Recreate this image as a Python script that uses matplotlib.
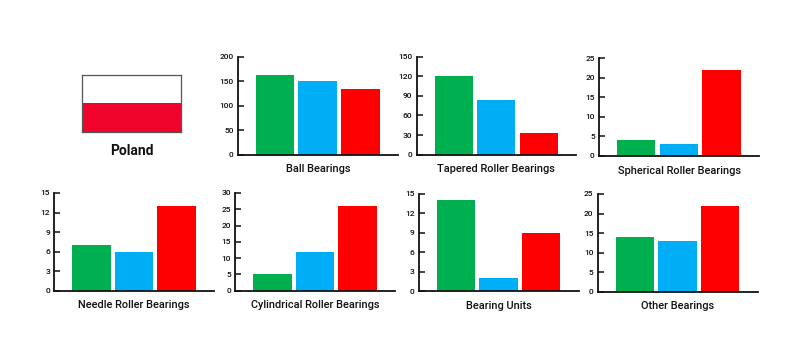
import matplotlib
matplotlib.use("Agg")
import matplotlib.pyplot as plt
from matplotlib.patches import Rectangle

W, H = 809, 351
plt.rcParams['font.family'] = ['Roboto', 'DejaVu Sans']

country = "Poland"
colors = ["#00B050", "#00AEF5", "#FF0000"]
flag_colors = ["#FFFFFF", "#F0042C"]

titles = ["Ball Bearings", "Tapered Roller Bearings", "Spherical Roller Bearings",
          "Needle Roller Bearings", "Cylindrical Roller Bearings", "Bearing Units", "Other Bearings"]
ball = [162, 150, 135]
tapered = [121, 84, 33]
spherical = [4, 3, 22]
needle = [7, 6, 13]
cylindrical = [5, 12, 26]
units = [14, 2, 9]
other = [14, 13, 22]
series = [ball, tapered, spherical, needle, cylindrical, units, other]
y_ticks = [[0, 50, 100, 150, 200], [0, 30, 60, 90, 120, 150], [0, 5, 10, 15, 20, 25],
           [0, 3, 6, 9, 12, 15], [0, 5, 10, 15, 20, 25, 30], [0, 3, 6, 9, 12, 15], [0, 5, 10, 15, 20, 25]]
# pixel boxes: left, top, right, bottom
boxes = [(237.7, 56.7, 398, 154.7), (416.7, 56.7, 576, 154.7), (599, 58.3, 759.3, 156),
         (54.3, 193, 214, 290.7), (235.3, 193, 395, 290.7), (419, 194, 578.7, 291.3), (597.7, 194, 757.7, 291.7)]

def add_axes(l, t, r, b):
    return fig.add_axes([l / W, 1 - b / H, (r - l) / W, (b - t) / H])

fig = plt.figure(figsize=(W / 100, H / 100), dpi=100, facecolor="white")

for title, vals, ticks, box in zip(titles, series, y_ticks, boxes):
    ax = add_axes(*box)
    ax.bar(range(3), vals, width=0.9, color=colors, linewidth=0)
    ax.set_xlim(-0.87, 2.88)
    ax.set_ylim(0, ticks[-1])
    ax.set_yticks(ticks)
    ax.set_xticks([])
    ax.tick_params(axis="y", direction="in", length=4, width=1.1, pad=3, labelsize=6, colors="#111111")
    for lab in ax.get_yticklabels():
        lab.set_fontweight(500)
    for s in ("top", "right"):
        ax.spines[s].set_visible(False)
    for s in ("left", "bottom"):
        ax.spines[s].set_linewidth(1.3)
        ax.spines[s].set_color("#111111")
    ax.set_xlabel(title, fontsize=7.9, fontweight=500, color="#111111", labelpad=7)

fax = add_axes(82, 74.5, 181, 132.5)
fax.set_xlim(0, 1)
fax.set_ylim(0, 2)
fax.add_patch(Rectangle((0, 1), 1, 1, color=flag_colors[0], lw=0))
fax.add_patch(Rectangle((0, 0), 1, 1, color=flag_colors[1], lw=0))
fax.set_xticks([])
fax.set_yticks([])
for s in fax.spines.values():
    s.set_linewidth(0.9)
    s.set_color("#555555")
fig.text(131.5 / W, 1 - 151 / H, country, ha="center", va="center", fontsize=10, fontweight="bold", color="#111111")

fig.savefig("out.png", dpi=100, facecolor="white")
